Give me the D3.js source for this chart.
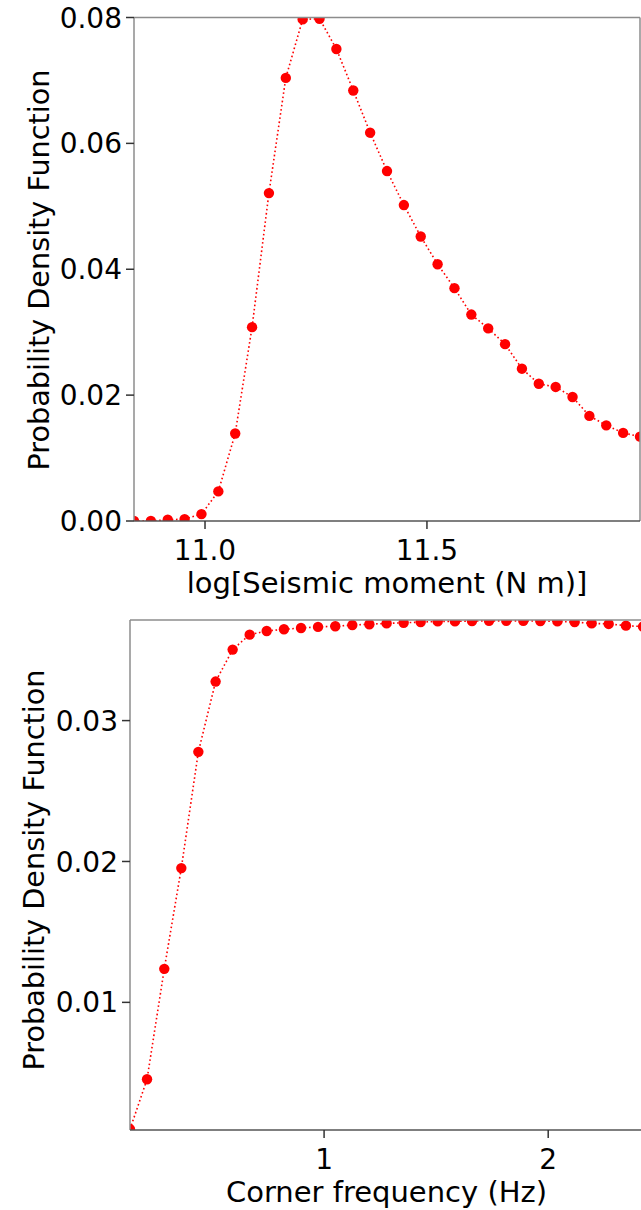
<!DOCTYPE html>
<html lang="en">
<head>
    <meta charset="UTF-8">
    <title>Probability Density Functions</title>
    <script src="https://d3js.org/d3.v7.min.js"></script>
    <style>
        body { margin: 0; background: #fff; }
        svg { display: block; font-family: "DejaVu Sans", sans-serif; }
        .tick-label { font-size: 28px; fill: #000; }
        .x-label { font-size: 29px; fill: #000; }
        .y-label { font-size: 28.7px; fill: #000; }
    </style>
</head>
<body>
    <svg id="chart" width="641" height="1210"></svg>

    <script>
        // Top panel: log seismic moment vs PDF
        const momentX = [10.840, 10.878, 10.916, 10.954, 10.992, 11.030, 11.068, 11.106, 11.144, 11.182,
            11.220, 11.258, 11.296, 11.334, 11.372, 11.410, 11.448, 11.486, 11.524, 11.562,
            11.600, 11.638, 11.676, 11.714, 11.752, 11.790, 11.828, 11.866, 11.904, 11.942, 11.980];
        const momentPdf = [0.0000, 0.0000, 0.0002, 0.0003, 0.0011, 0.0047, 0.0139, 0.0308, 0.0521, 0.0704,
            0.0797, 0.0798, 0.0750, 0.0684, 0.0617, 0.0556, 0.0502, 0.0452, 0.0408, 0.0370,
            0.0328, 0.0306, 0.0281, 0.0242, 0.0218, 0.0213, 0.0197, 0.0167, 0.0152, 0.0140, 0.0134];
        const momentXTicks = [11.0, 11.5];
        const momentYTicks = [0.00, 0.02, 0.04, 0.06, 0.08];

        // Bottom panel: corner frequency vs PDF
        const cornerX = [0.134, 0.210, 0.287, 0.363, 0.439, 0.516, 0.592, 0.668, 0.744, 0.821,
            0.897, 0.973, 1.050, 1.126, 1.202, 1.279, 1.355, 1.431, 1.507, 1.584,
            1.660, 1.736, 1.813, 1.889, 1.965, 2.041, 2.118, 2.194, 2.270, 2.347, 2.423];
        const cornerPdf = [0.00099, 0.00454, 0.01238, 0.01953, 0.02778, 0.03277, 0.03504, 0.03610, 0.03636, 0.03648,
            0.03657, 0.03665, 0.03670, 0.03678, 0.03684, 0.03690, 0.03694, 0.03699, 0.03704, 0.03704,
            0.03707, 0.03708, 0.03708, 0.03708, 0.03707, 0.03704, 0.03699, 0.03690, 0.03686, 0.03674, 0.03667];
        const cornerXTicks = [1, 2];
        const cornerYTicks = [0.01, 0.02, 0.03];

        const svg = d3.select("#chart");
        svg.append("rect").attr("width", 641).attr("height", 1210).attr("fill", "#fff");

        function drawPanel(p) {
            const x = d3.scaleLinear().domain(p.xDomain).range([p.left, p.right]);
            const y = d3.scaleLinear().domain(p.yDomain).range([p.bottom, p.top]);
            const pts = p.xs.map((v, i) => [v, p.ys[i]]);
            const g = svg.append("g");

            g.append("clipPath").attr("id", p.id)
                .append("rect")
                .attr("x", p.left).attr("y", p.top)
                .attr("width", p.right - p.left).attr("height", p.bottom - p.top);

            const plot = g.append("g").attr("clip-path", `url(#${p.id})`);

            plot.append("path")
                .datum(pts)
                .attr("fill", "none")
                .attr("stroke", "#ff0000")
                .attr("stroke-width", 1.6)
                .attr("stroke-dasharray", "1.6,2.6")
                .attr("d", d3.line().x(d => x(d[0])).y(d => y(d[1])));

            plot.selectAll("circle")
                .data(pts)
                .enter()
                .append("circle")
                .attr("cx", d => x(d[0]))
                .attr("cy", d => y(d[1]))
                .attr("r", 5.2)
                .attr("fill", "#ff0000");

            // spines
            const spine = (x1, y1, x2, y2, c) => g.append("line")
                .attr("x1", x1).attr("y1", y1).attr("x2", x2).attr("y2", y2)
                .attr("stroke", c).attr("stroke-width", 1.5);
            spine(p.left, p.top, p.right, p.top, "#8c8c8c");
            spine(p.right, p.top, p.right, p.bottom, "#8c8c8c");
            spine(p.left, p.top, p.left, p.bottom, "#8c8c8c");
            spine(p.left, p.bottom, p.right, p.bottom, "#555");

            // y ticks
            p.yTicks.forEach(t => {
                const yy = y(t);
                g.append("line")
                    .attr("x1", p.left - 8).attr("x2", p.left)
                    .attr("y1", yy).attr("y2", yy)
                    .attr("stroke", "#333").attr("stroke-width", 1.5);
                g.append("text")
                    .attr("class", "tick-label")
                    .attr("x", p.left - 12)
                    .attr("y", yy)
                    .attr("dy", "0.36em")
                    .attr("text-anchor", "end")
                    .text(p.yFormat(t));
            });

            // x ticks
            p.xTicks.forEach(t => {
                const xx = x(t);
                g.append("line")
                    .attr("x1", xx).attr("x2", xx)
                    .attr("y1", p.bottom).attr("y2", p.bottom + 8)
                    .attr("stroke", "#333").attr("stroke-width", 1.5);
                g.append("text")
                    .attr("class", "tick-label")
                    .attr("x", xx)
                    .attr("y", p.bottom + 39)
                    .attr("text-anchor", "middle")
                    .text(p.xFormat(t));
            });

            g.append("text")
                .attr("class", "x-label")
                .attr("x", (p.left + p.right) / 2)
                .attr("y", p.bottom + 72)
                .attr("text-anchor", "middle")
                .text(p.xLabel);

            g.append("text")
                .attr("class", "y-label")
                .attr("transform", `translate(${p.yLabelX},${p.yLabelY}) rotate(-90)`)
                .attr("text-anchor", "middle")
                .text("Probability Density Function");
        }

        drawPanel({
            id: "clip-top",
            xs: momentX, ys: momentPdf,
            xDomain: d3.extent(momentX), yDomain: [0, 0.08],
            left: 134, right: 640, top: 17.5, bottom: 521,
            xTicks: momentXTicks, yTicks: momentYTicks,
            xFormat: d3.format(".1f"), yFormat: d3.format(".2f"),
            xLabel: "log[Seismic moment (N m)]",
            yLabelX: 48.5, yLabelY: 270
        });

        drawPanel({
            id: "clip-bottom",
            xs: cornerX, ys: cornerPdf,
            xDomain: d3.extent(cornerX), yDomain: [0.00094, 0.03714],
            left: 130, right: 643, top: 620, bottom: 1130,
            xTicks: cornerXTicks, yTicks: cornerYTicks,
            xFormat: d3.format("d"), yFormat: d3.format(".2f"),
            xLabel: "Corner frequency (Hz)",
            yLabelX: 43.5, yLabelY: 870
        });
    </script>
</body>
</html>
